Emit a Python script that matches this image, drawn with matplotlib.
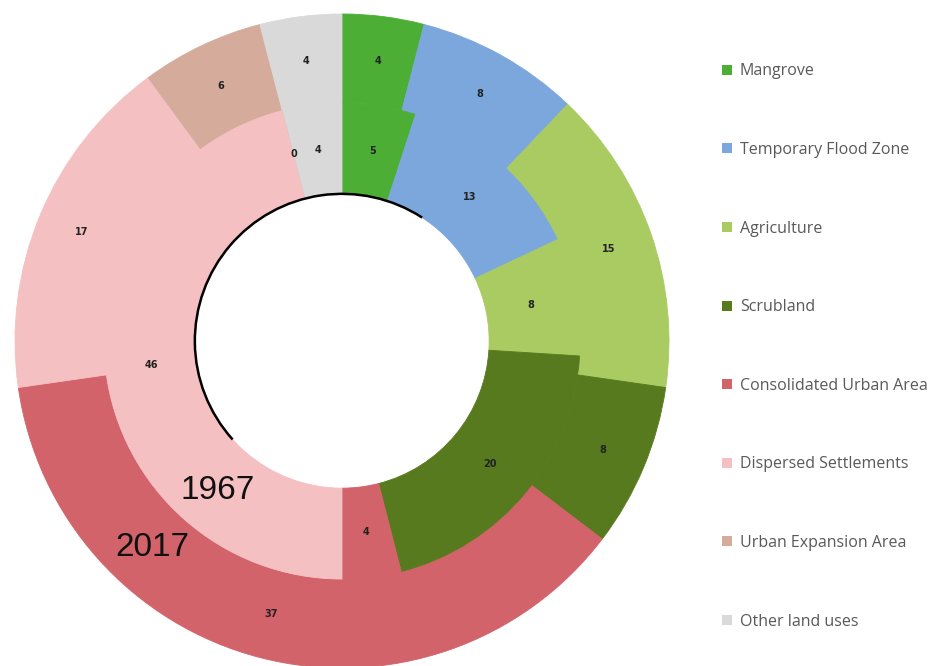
import numpy as np
import matplotlib.pyplot as plt
from matplotlib.patches import Arc, Patch

categories = ['Mangrove', 'Temporary Flood Zone', 'Agriculture', 'Scrubland',
              'Consolidated Urban Area', 'Dispersed Settlements',
              'Urban Expansion Area', 'Other land uses']
values_2017 = [4, 8, 15, 8, 37, 17, 6, 4]
values_1967 = [5, 13, 8, 20, 4, 46, 0, 4]
colors = ['#4dae36', '#7ba7dc', '#a9cb62', '#587a1e', '#d2636a',
          '#f4c0c2', '#d5ac9c', '#d9d9d9']

fig = plt.figure(figsize=(9.36, 6.66), dpi=100)
ax = fig.add_axes([15 / 936, -2 / 666, 654 / 936, 654 / 666])

r_hole = 0.45
r_mid = 0.728

outer, _ = ax.pie(values_2017, radius=1.0, colors=colors, startangle=90,
                  counterclock=False, wedgeprops=dict(width=1.0 - r_mid))
inner, _ = ax.pie(values_1967, radius=r_mid, colors=colors, startangle=90,
                  counterclock=False, wedgeprops=dict(width=r_mid - r_hole))

# hide seams between rings
for w in outer + inner:
    w.set_edgecolor(w.get_facecolor())
    w.set_linewidth(0.6)


def put_labels(wedges, vals, r):
    for w, v in zip(wedges, vals):
        ang = np.deg2rad((w.theta1 + w.theta2) / 2)
        ax.text(r * np.cos(ang), r * np.sin(ang), str(v), ha='center', va='center',
                fontsize=7, fontweight='bold', color='#222222')


put_labels(outer, values_2017, (1.0 + r_mid) / 2)
put_labels(inner, values_1967, (r_mid + r_hole) / 2)

# dark edge on part of the hole
ax.add_patch(Arc((0, 0), 2 * r_hole, 2 * r_hole, theta1=57, theta2=222,
                 color='black', lw=1.8))

ax.text(-0.38, -0.457, '1967', fontsize=24, family='Liberation Sans',
        ha='center', va='center', color='#111111')
ax.text(-0.58, -0.63, '2017', fontsize=24, family='Liberation Sans',
        ha='center', va='center', color='#111111')

ax.set_xlim(-1, 1)
ax.set_ylim(-1, 1)
ax.set_aspect('equal')
ax.axis('off')

handles = [Patch(facecolor=c, edgecolor='none') for c in colors]
leg = fig.legend(handles, categories, loc='upper left', bbox_to_anchor=(708 / 936, 1 - 49 / 666),
                 frameon=False, labelspacing=3.92, handlelength=0.6,
                 handleheight=0.6, handletextpad=0.5, prop={'family': 'Open Sans', 'size': 11.5})
for t in leg.get_texts():
    t.set_color('#595959')

plt.savefig('out.png', dpi=100)
